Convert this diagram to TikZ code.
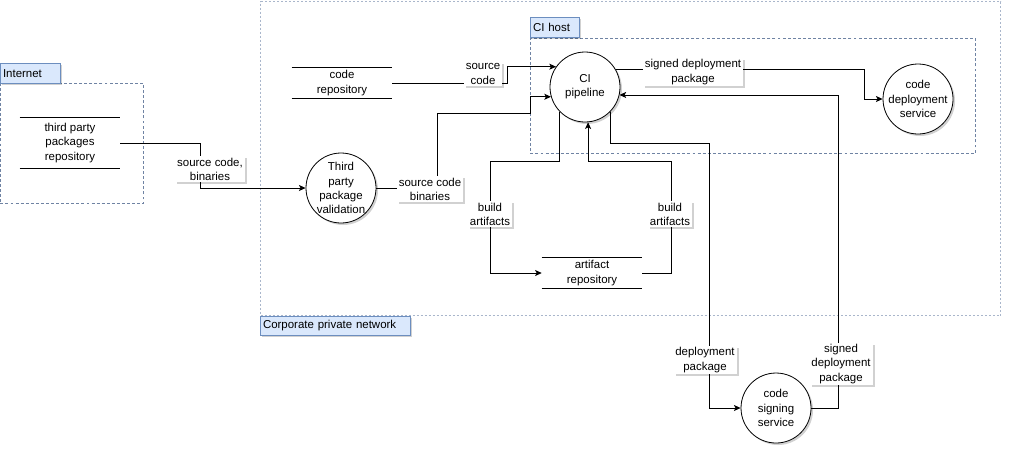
\documentclass[tikz,border=0pt]{standalone}
\usepackage{fontspec}
\setmainfont{Liberation Sans}
\usetikzlibrary{arrows.meta,shadows}
\definecolor{ink}{HTML}{000000}
\definecolor{zline}{HTML}{6F83A3}
\definecolor{zlight}{HTML}{A9B6CB}
\definecolor{tag}{HTML}{DAE8FC}
\definecolor{tagline}{HTML}{6C8EBF}
\tikzset{
  txt/.style={font=\fontsize{8.6}{10.6}\selectfont,align=center,text=ink},
  shd/.style={drop shadow={shadow xshift=1.5pt,shadow yshift=-1.5pt,fill=black,opacity=.18}},
  proc/.style={txt,shd,circle,draw=ink,line width=.6pt,fill=white,minimum size=52.5pt,inner sep=0pt},
  store/.style={txt,minimum width=75pt,inner sep=0pt},
  lbl/.style={txt,shd,fill=white,inner sep=1.4pt},
  zone/.style={draw=zline,line width=.55pt,dash pattern=on 2.2pt off 1.6pt,anchor=north west,inner sep=0pt},
  zonec/.style={draw=zlight,line width=1.1pt,dash pattern=on 1.5pt off 1.5pt,anchor=north west,inner sep=0pt},
  tagbox/.style={txt,shd,anchor=north west,fill=tag,draw=tagline,line width=.5pt,inner xsep=2pt,inner ysep=0pt,align=left},
  ar/.style={-{Stealth[length=5pt,width=4.5pt,inset=1.2pt]},draw=ink,line width=.6pt},
}

\begin{document}
\begin{tikzpicture}[x=0.75pt,y=-0.75pt]
  \useasboundingbox (0,0) rectangle (1012,455);
  \node[zonec,minimum width=555pt,minimum height=235.5pt] (corp) at (260,1) {};
  \node[zone,minimum width=107.25pt,minimum height=90pt] (inet) at (0,83) {};
  \node[zone,minimum width=333.75pt,minimum height=86.25pt] (cihost) at (530,38) {};
  \node[tagbox,text width=41pt,minimum height=15pt] (tinet) at (0,63) {Internet};
  \node[tagbox,text width=108.5pt,minimum height=14.25pt] (tcorp) at (260,316) {Corporate private network};
  \node[tagbox,text width=32.75pt,minimum height=15pt] (tci) at (530,17) {CI host};

  \node[store,minimum height=37.5pt] (tpr) at (70,143) {third party\\packages\\repository};
  \node[store,minimum height=22.5pt] (crepo) at (342,83) {code\\repository};
  \node[store,minimum height=22.5pt] (arepo) at (592,273) {artifact\\repository};
  \foreach \s in {tpr,crepo,arepo}
    \draw[ink,line width=.6pt] (\s.north west) -- (\s.north east) (\s.south west) -- (\s.south east);

  \node[proc] (val) at (341,188) {Third\\party\\package\\validation};
  \node[proc] (ci) at (585,87) {CI\\pipeline};
  \node[proc] (dep) at (918,99) {code\\deployment\\service};
  \node[proc] (sign) at (776,408) {code\\signing\\service};

  \draw[ar] (tpr.east) -- ++(80,0) |- (val.west);
  \draw[ar] (crepo.east) -- ++(115,0) |- (ci.145);
  \draw[ar] (val.east) -| (437,113) -- (530,113) |- (ci.196);
  \draw[ar] (ci.224) |- (490,161) |- (arepo.west);
  \draw[ar] (arepo.east) -| (671,161) -| (ci.275);
  \draw[ar] (ci.316) |- (709,143) |- (sign.west);
  \draw[ar] (sign.east) -- ++(27,0) |- (ci.347);
  \draw[ar] (ci.30) -- ++(249,0) |- (dep.west);

  \node[lbl] (l1) at (210,169) {source code,\\binaries};
  \node[lbl] (l2) at (483,74) {source\\code};
  \node[lbl] (l3) at (430,189) {source code\\binaries};
  \node[lbl] (l4) at (490,214) {build\\artifacts};
  \node[lbl] (l5) at (670,214) {build\\artifacts};
  \node[lbl] (l6) at (705,360) {deployment\\package};
  \node[lbl] (l7) at (841,364) {signed\\deployment\\package};
  \node[lbl] (l8) at (693,72) {signed deployment\\package};
\end{tikzpicture}
\end{document}
